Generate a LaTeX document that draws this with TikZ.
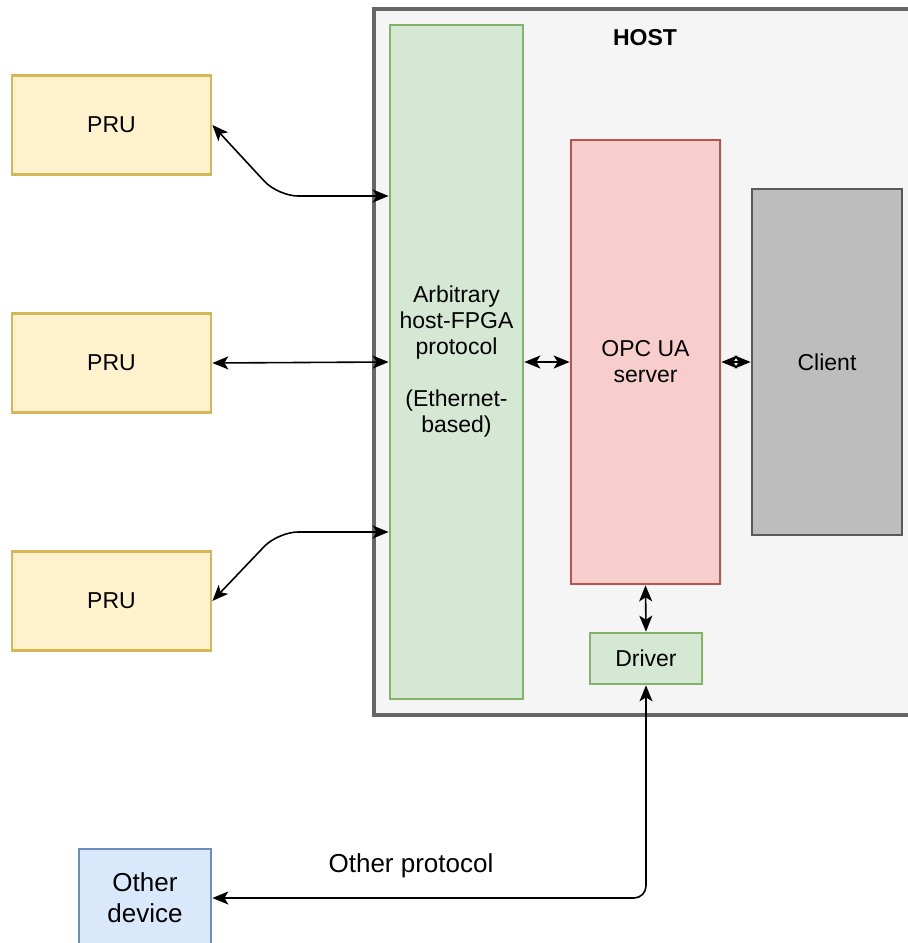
\documentclass[tikz,border=0pt]{standalone}
\usepackage{fontspec}
\setmainfont{Liberation Sans}
\usetikzlibrary{arrows.meta}
\definecolor{hostFill}{HTML}{F5F5F5}
\definecolor{hostLine}{HTML}{666666}
\definecolor{pruFill}{HTML}{FFF2CC}
\definecolor{pruLine}{HTML}{D6B656}
\definecolor{protoFill}{HTML}{D5E8D4}
\definecolor{protoLine}{HTML}{82B366}
\definecolor{opcFill}{HTML}{F8CECC}
\definecolor{opcLine}{HTML}{B85450}
\definecolor{clientFill}{HTML}{BDBDBD}
\definecolor{clientLine}{HTML}{595959}
\definecolor{devFill}{HTML}{DAE8FC}
\definecolor{devLine}{HTML}{6C8EBF}
\tikzset{
  box/.style={draw, line width=2.7pt, inner sep=0pt, align=center, font=\fontsize{23}{26}\selectfont},
  hostbox/.style={box, fill=hostFill, draw=hostLine, line width=3.3pt},
  pru/.style={box, fill=pruFill, draw=pruLine, minimum width=199pt, minimum height=99pt},
  proto/.style={box, fill=protoFill, draw=protoLine},
  opc/.style={box, fill=opcFill, draw=opcLine},
  client/.style={box, fill=clientFill, draw=clientLine},
  device/.style={box, fill=devFill, draw=devLine, font=\fontsize{26}{31}\selectfont},
  link/.style={line width=1.6pt, {Stealth[length=16pt,width=13pt,inset=4pt]}-{Stealth[length=16pt,width=13pt,inset=4pt]}},
  lbl/.style={inner sep=0pt, font=\fontsize{23}{26}\selectfont}
}
\begin{document}
\begin{tikzpicture}[x=1pt,y=-1pt]
  \useasboundingbox (0,0) rectangle (908,943);
  \node[hostbox, minimum width=546pt, minimum height=706pt] (host) at (647,362) {};
  \node[lbl, font=\fontsize{23}{26}\selectfont\bfseries] (hostlbl) at (645,38) {HOST};

  \node[pru] (pru1) at (111.5,125) {PRU};
  \node[pru] (pru2) at (111.5,363) {PRU};
  \node[pru] (pru3) at (111.5,601) {PRU};

  \node[proto, minimum width=133pt, minimum height=674pt] (proto) at (456.5,362)
    {Arbitrary\\host-FPGA\\protocol\\[26pt](Ethernet-\\based)};
  \node[opc, minimum width=149pt, minimum height=444pt] (opc) at (645.5,362) {OPC UA\\server};
  \node[client, minimum width=150pt, minimum height=346pt] (client) at (827,362) {Client};
  \node[proto, minimum width=112pt, minimum height=51pt] (driver) at (646,658.5) {Driver};
  \node[device, minimum width=132pt, minimum height=98pt] (other) at (145,898) {Other\\device};

  \coordinate (b1) at (278,196);
  \coordinate (b3) at (278,532);
  \draw[link, rounded corners=20pt] (pru1.east) -- (b1) -- (b1 -| proto.west);
  \draw[link] (pru2.east) -- (proto.west);
  \draw[link, rounded corners=20pt] (b3 -| proto.west) -- (b3) -- (pru3.east);
  \draw[link] (proto.east) -- (opc.west);
  \draw[link] (opc.east) -- (client.west);
  \draw[link] (opc.south) -- (driver.north);
  \draw[link, rounded corners=12pt] (driver.south) |- (other.east);
  \node[lbl, font=\fontsize{26}{30}\selectfont] (protolbl) at (411,866) {Other protocol};
\end{tikzpicture}
\end{document}
